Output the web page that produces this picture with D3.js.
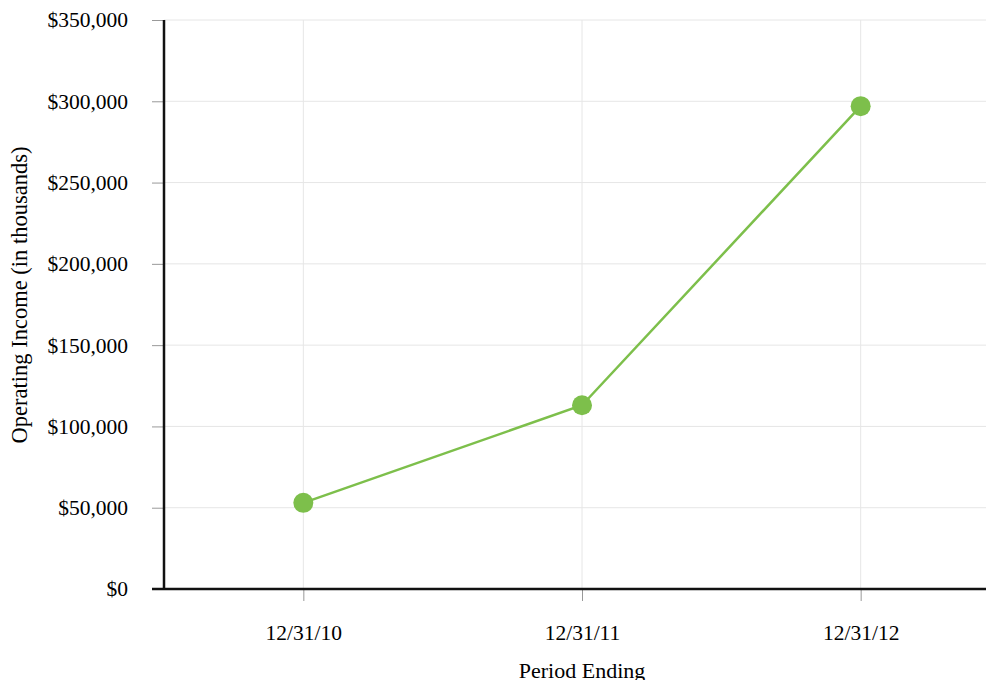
<!DOCTYPE html>
<html>
<head>
<meta charset="utf-8">
<style>
  body { margin: 0; background: #fff; }
  text { font-family: "Liberation Serif", "Times New Roman", serif; fill: #000; }
</style>
<script src="https://cdn.jsdelivr.net/npm/d3@7/dist/d3.min.js"></script>
</head>
<body>
<div id="chart"></div>
<script>
var periods = ['12/31/10', '12/31/11', '12/31/12'];
var income = [53000, 113000, 297000];
var yTicks = [0, 50000, 100000, 150000, 200000, 250000, 300000, 350000];

var W = 986, H = 680;
var plotLeft = 164, plotTop = 20, plotBottom = 589, plotRight = 1000;

var svg = d3.select('#chart').append('svg')
    .attr('width', W)
    .attr('height', H);

var x = d3.scalePoint().domain(periods).range([plotLeft, plotRight]).padding(0.5);
var y = d3.scaleLinear().domain([0, 350000]).range([plotBottom, plotTop]);

// horizontal grid
svg.selectAll('.hgrid').data(yTicks.slice(1)).enter().append('line')
    .attr('x1', plotLeft).attr('x2', W)
    .attr('y1', function(d) { return y(d); })
    .attr('y2', function(d) { return y(d); })
    .style('stroke', '#e6e6e6').style('stroke-width', 1);

// vertical grid
svg.selectAll('.vgrid').data(periods).enter().append('line')
    .attr('x1', function(d) { return x(d); })
    .attr('x2', function(d) { return x(d); })
    .attr('y1', plotTop).attr('y2', plotBottom)
    .style('stroke', '#e6e6e6').style('stroke-width', 1);

// y axis
var yAxis = svg.append('g')
    .attr('transform', 'translate(' + plotLeft + ',0)')
    .call(d3.axisLeft(y).tickValues(yTicks).tickSize(12).tickPadding(24)
      .tickFormat(function(d) { return '$' + d3.format(',')(d); }));
yAxis.select('.domain').remove();
yAxis.selectAll('.tick line').style('stroke', '#999');
yAxis.selectAll('text').style('font-size', '21.5px')
    .style('font-family', '"Liberation Serif", serif').attr('fill', '#000');

// x axis
var xAxis = svg.append('g')
    .attr('transform', 'translate(0,' + plotBottom + ')')
    .call(d3.axisBottom(x).tickSize(12).tickPadding(24));
xAxis.select('.domain').remove();
xAxis.selectAll('.tick line').style('stroke', '#999');
xAxis.selectAll('text').style('font-size', '21.5px')
    .style('font-family', '"Liberation Serif", serif').attr('fill', '#000');

// axis lines
svg.append('line')
    .attr('x1', plotLeft - 12).attr('x2', W)
    .attr('y1', plotBottom).attr('y2', plotBottom)
    .style('stroke', '#111').style('stroke-width', 2.5);
svg.append('line')
    .attr('x1', plotLeft).attr('x2', plotLeft)
    .attr('y1', plotTop).attr('y2', plotBottom)
    .style('stroke', '#111').style('stroke-width', 2.5);

// series
var data = periods.map(function(p, i) { return { p: p, v: income[i] }; });
svg.append('path')
    .datum(data)
    .attr('d', d3.line().x(function(d) { return x(d.p); }).y(function(d) { return y(d.v); }))
    .style('fill', 'none').style('stroke', '#7dbf4b').style('stroke-width', 2.5);
svg.selectAll('.pt').data(data).enter().append('circle')
    .attr('cx', function(d) { return x(d.p); })
    .attr('cy', function(d) { return y(d.v); })
    .attr('r', 10)
    .style('fill', '#7dbf4b');

// axis titles
svg.append('text')
    .attr('x', x('12/31/11')).attr('y', 678)
    .attr('text-anchor', 'middle')
    .style('font-size', '22px')
    .text('Period Ending');
svg.append('text')
    .attr('transform', 'translate(27,295) rotate(-90)')
    .attr('text-anchor', 'middle')
    .style('font-size', '22.5px')
    .text('Operating Income (in thousands)');
</script>
</body>
</html>
